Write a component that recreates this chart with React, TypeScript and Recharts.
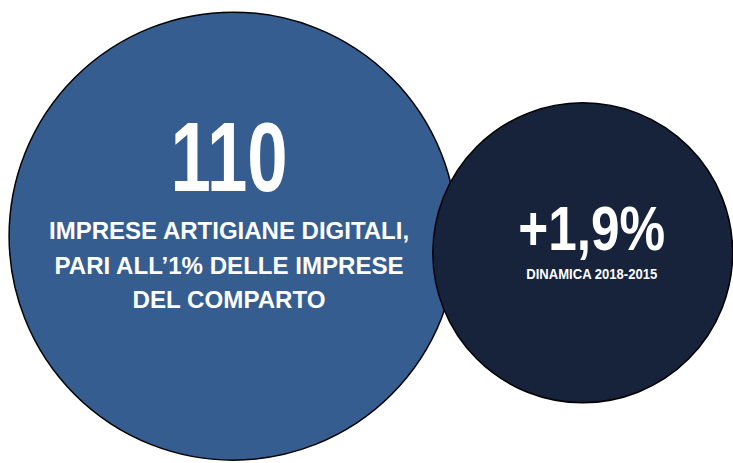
import { ScatterChart, Scatter, XAxis, YAxis, ZAxis } from 'recharts'

// two bubbles: headline figure and its dynamic
const bubbleX = [31.8, 79.5]
const bubbleY = [49, 45.4]
const bubbleZ = [100, 44.8]
const bubbleValues = ['110', '+1,9%']
const bubbleNotes = [
  ['IMPRESE ARTIGIANE DIGITALI,', 'PARI ALL’1% DELLE IMPRESE', 'DEL COMPARTO'],
  ['DINAMICA 2018-2015'],
]
const bubbleColors = ['#355d8f', '#16233a']

const data = bubbleX.map((x, i) => ({
  x,
  y: bubbleY[i],
  z: bubbleZ[i],
  value: bubbleValues[i],
  notes: bubbleNotes[i],
  color: bubbleColors[i],
}))

// text layout per bubble (offsets from the bubble centre)
const layouts = [
  {
    dx: -4,
    value: { dy: -45, size: 98, width: 117 },
    notes: { dy: 3, size: 24, lineGap: 34.5, widths: [360, 349, 193] },
  },
  {
    dx: 9,
    value: { dy: -3, size: 63, width: 147 },
    notes: { dy: 26, size: 14, lineGap: 18, widths: [131] },
  },
]

const FONT = '"Liberation Sans Narrow", "Liberation Sans", Arial, sans-serif'

function Bubble(props: any) {
  const { cx, cy, width, payload, index } = props
  const r = width / 2
  const l = layouts[index] ?? layouts[0]
  const tx = cx + l.dx
  return (
    <g>
      <circle cx={cx} cy={cy} r={r} fill={payload.color} stroke="#000" strokeWidth={1.5} />
      <text
        x={tx}
        y={cy + l.value.dy}
        textAnchor="middle"
        fill="#fff"
        fontFamily={FONT}
        fontWeight="bold"
        fontSize={l.value.size}
        textLength={l.value.width}
        lengthAdjust="spacingAndGlyphs"
      >
        {payload.value}
      </text>
      {payload.notes.map((line: string, i: number) => (
        <text
          key={i}
          x={tx}
          y={cy + l.notes.dy + i * l.notes.lineGap}
          textAnchor="middle"
          fill="#fff"
          fontFamily={FONT}
          fontWeight="bold"
          fontSize={l.notes.size}
          textLength={l.notes.widths[i]}
          lengthAdjust="spacingAndGlyphs"
        >
          {line}
        </text>
      ))}
    </g>
  )
}

export default function App() {
  return (
    <div style={{ position: 'absolute', left: 0, top: 0, width: 733, height: 463, background: '#fff' }}>
      <ScatterChart width={733} height={463} margin={{ top: 0, right: 0, bottom: 0, left: 0 }}>
        <XAxis type="number" dataKey="x" domain={[0, 100]} hide />
        <YAxis type="number" dataKey="y" domain={[0, 100]} hide />
        <ZAxis type="number" dataKey="z" domain={[0, 100]} range={[0, Math.PI * 224 * 224]} />
        <Scatter data={data} shape={(p: any) => <Bubble {...p} />} isAnimationActive={false} />
      </ScatterChart>
    </div>
  )
}
